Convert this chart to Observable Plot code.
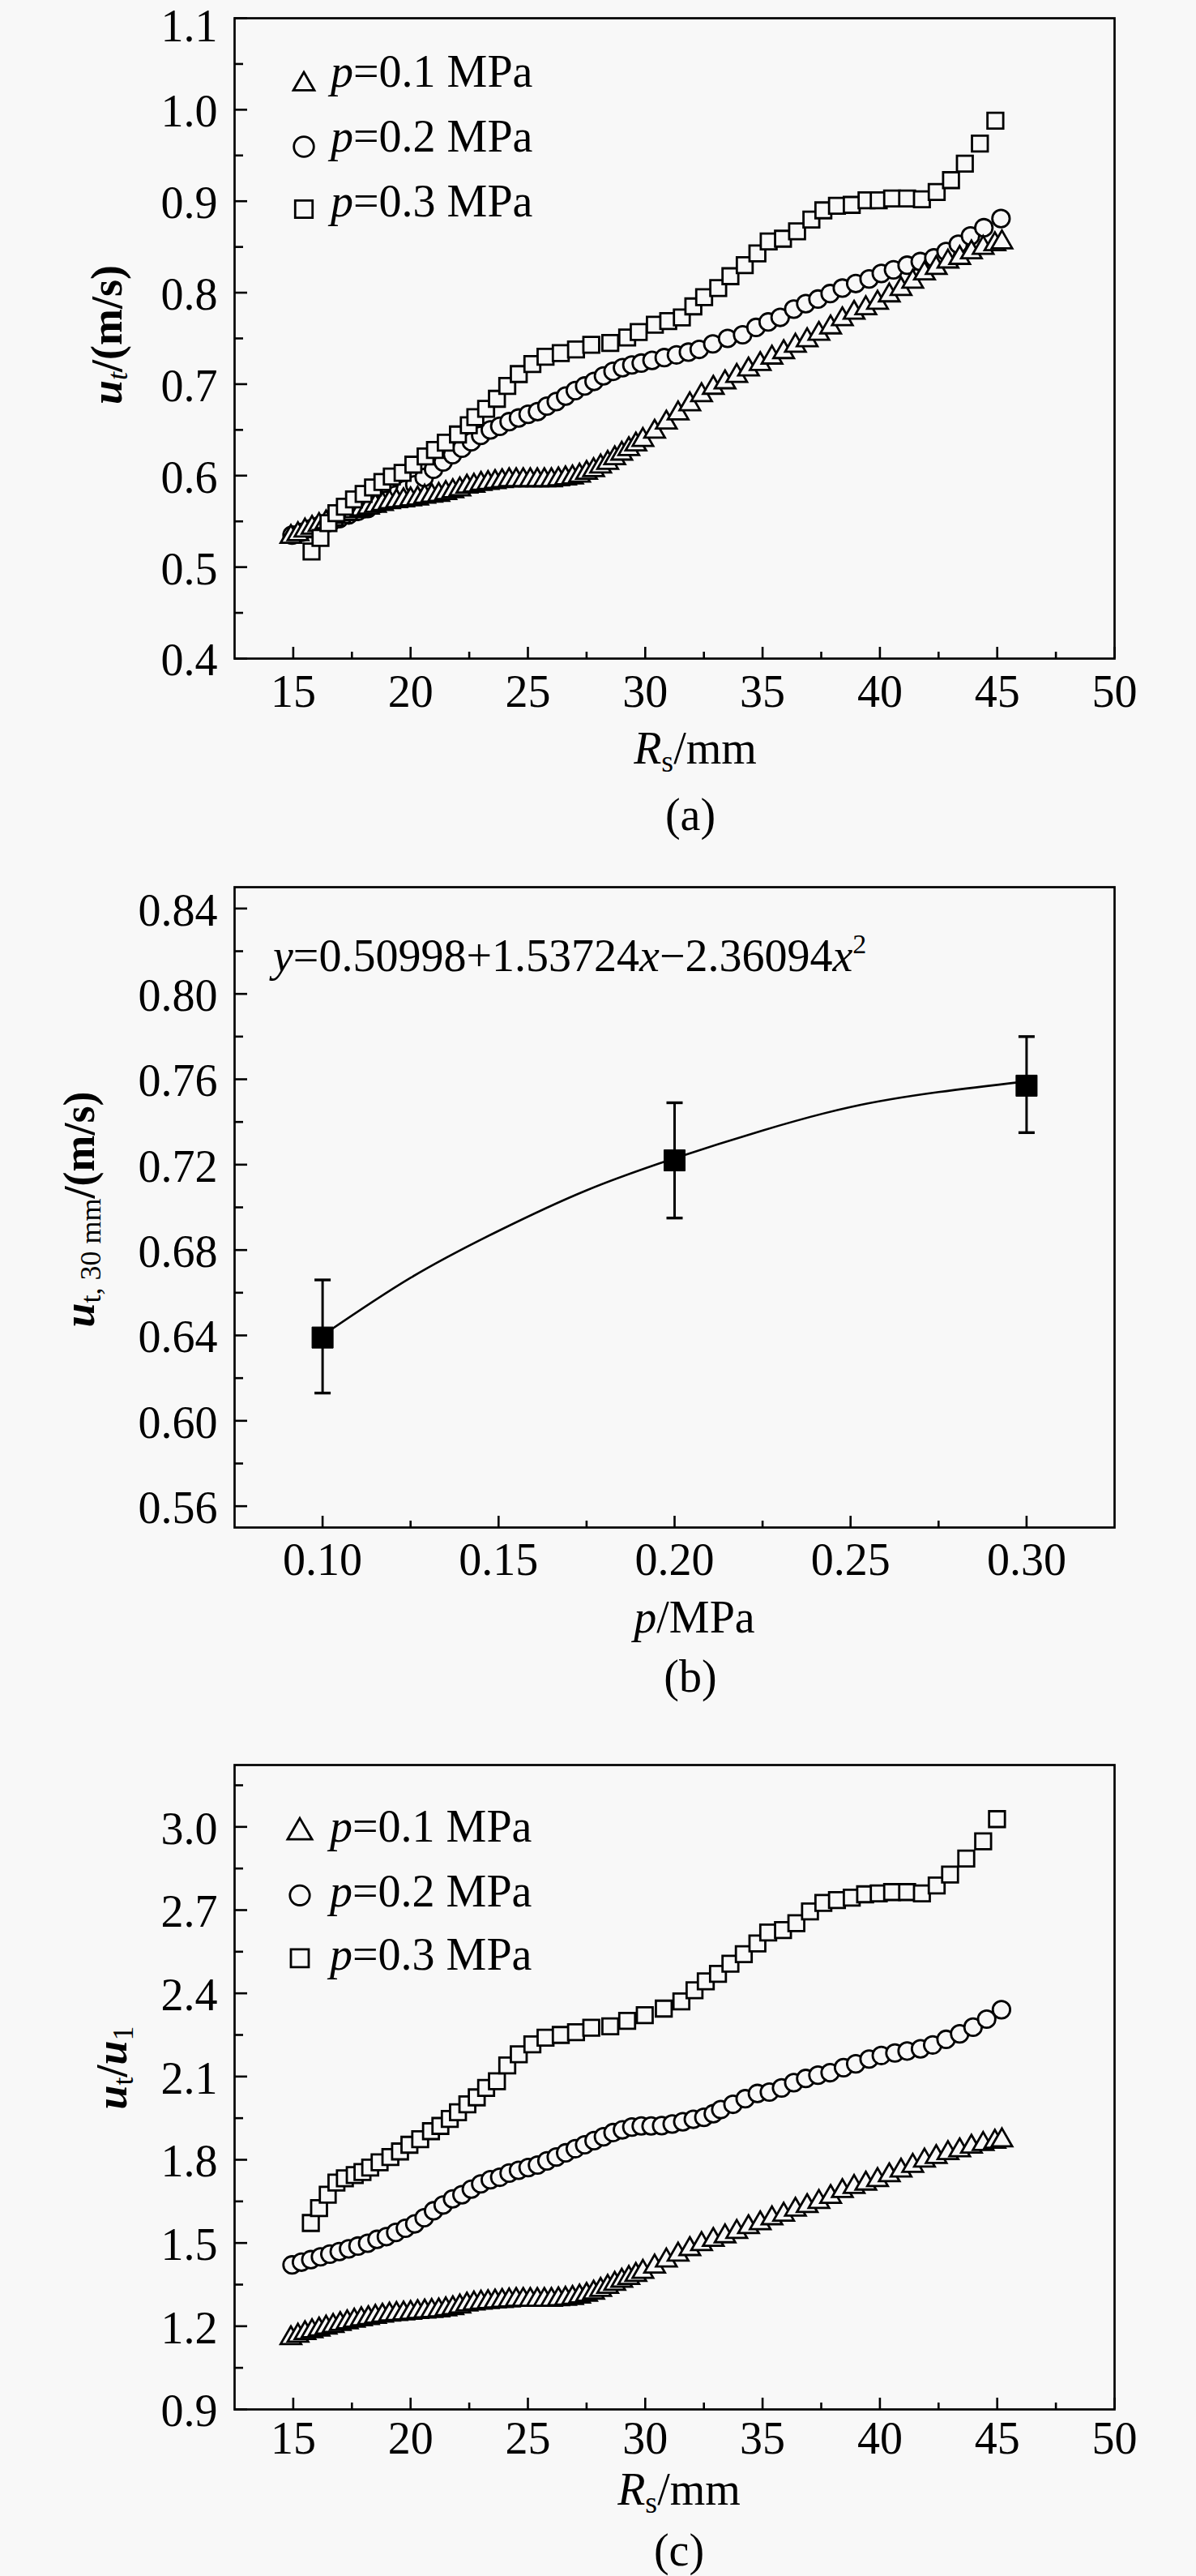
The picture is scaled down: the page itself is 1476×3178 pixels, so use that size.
<!DOCTYPE html>
<html>
<head>
<meta charset="utf-8">
<script src="https://cdn.jsdelivr.net/npm/d3@7"></script>
<script src="https://cdn.jsdelivr.net/npm/@observablehq/plot@0.6"></script>
<style>
html, body { margin: 0; padding: 0; background: #f8f8f8; }
#page { position: relative; width: 1476px; height: 3178px; overflow: hidden; background: #f8f8f8; }
.cap { position: absolute; width: 200px; text-align: center; font: 56px/56px 'Liberation Serif','Times New Roman',Times,serif; color: #000; }
</style>
</head>
<body>
<div id="page"></div>
<script>
// ---------------- Data: panel (a) u_t vs R_s ----------------
const triR = [14.9,15.2,15.5,15.8,16.1,16.4,16.7,17.0,17.3,17.6,17.9,18.2,18.5,18.8,19.1,19.4,19.7,20.0,20.3,20.6,
  20.9,21.2,21.5,21.8,22.1,22.4,22.7,23.0,23.3,23.6,23.9,24.2,24.5,24.8,25.1,25.4,25.7,26.0,26.3,26.6,
  26.9,27.2,27.5,27.8,28.1,28.4,28.7,29.0,29.3,29.6,29.9,
  30.4,30.9,31.4,31.9,32.4,32.9,33.4,33.9,34.4,34.9,35.4,35.9,36.4,36.9,37.4,37.9,38.4,38.9,39.4,39.9,
  40.4,40.9,41.4,41.9,42.4,42.9,43.4,43.9,44.4,44.9,45.2];
const aTriU = [0.533,0.536,0.540,0.543,0.546,0.549,0.552,0.555,0.558,0.561,
  0.563,0.565,0.567,0.569,0.571,0.572,0.573,0.574,0.575,0.577,
  0.578,0.579,0.581,0.583,0.585,0.588,0.589,0.591,0.592,0.593,
  0.594,0.595,0.595,0.595,0.595,0.595,0.595,0.595,0.596,0.597,
  0.598,0.600,0.603,0.606,0.610,0.614,0.619,0.624,0.629,0.634,0.639,
  0.648,0.658,0.668,0.678,0.688,0.696,0.702,0.709,0.716,0.722,
  0.729,0.735,0.742,0.748,0.755,0.762,0.771,0.778,0.783,0.789,
  0.797,0.804,0.812,0.821,0.827,0.834,0.838,0.844,0.849,0.853,0.855];
const aCirR = [14.95,15.35,15.75,16.16,16.56,16.96,17.36,17.76,18.17,18.57,
  18.97,19.37,19.78,20.18,20.58,20.98,21.39,21.79,22.19,22.59,
  22.99,23.40,23.80,24.20,24.60,25.01,25.41,25.81,26.21,26.61,
  27.02,27.42,27.82,28.22,28.63,29.03,29.43,29.83,30.29,30.81,
  31.33,31.84,32.30,32.88,33.51,34.15,34.72,35.24,35.75,36.33,
  36.84,37.36,37.88,38.40,38.97,39.54,40.06,40.58,41.16,41.72,
  42.30,42.82,43.34,43.86,44.43,45.16];
const aCirU = [0.535,0.538,0.542,0.546,0.550,0.553,0.557,0.561,0.564,0.569,
  0.573,0.579,0.585,0.590,0.598,0.607,0.615,0.623,0.630,0.637,
  0.644,0.650,0.654,0.659,0.663,0.667,0.670,0.676,0.681,0.687,
  0.693,0.698,0.703,0.709,0.714,0.718,0.721,0.723,0.726,0.729,
  0.732,0.735,0.738,0.744,0.750,0.754,0.762,0.768,0.773,0.782,
  0.788,0.793,0.799,0.805,0.810,0.815,0.821,0.825,0.830,0.834,
  0.838,0.845,0.853,0.862,0.871,0.881];
const aSqR = [15.78,16.16,16.50,16.84,17.20,17.59,18.00,18.40,18.80,19.20,
  19.66,20.12,20.64,21.04,21.50,22.02,22.48,22.76,23.22,23.68,
  24.12,24.61,25.19,25.75,26.40,27.05,27.70,28.51,29.23,29.72,
  30.41,30.98,31.56,32.05,32.51,33.11,33.63,34.24,34.78,35.26,
  35.87,36.47,37.08,37.59,38.17,38.80,39.43,39.95,40.52,41.16,
  41.79,42.42,43.03,43.62,44.26,44.92];
const aSqU = [0.517,0.532,0.548,0.559,0.566,0.574,0.580,0.587,0.593,0.599,
  0.603,0.612,0.621,0.628,0.636,0.645,0.655,0.664,0.673,0.684,
  0.698,0.711,0.722,0.730,0.734,0.738,0.743,0.745,0.751,0.757,
  0.765,0.769,0.773,0.785,0.795,0.805,0.818,0.830,0.843,0.856,
  0.859,0.867,0.880,0.890,0.895,0.896,0.901,0.901,0.903,0.903,
  0.902,0.910,0.923,0.941,0.963,0.988];

// ---------------- Data: panel (b) u_t,30mm vs p ----------------
const bP = [0.10, 0.20, 0.30];
const bU = [0.639, 0.722, 0.757];
const bLo = [0.613, 0.695, 0.735];
const bHi = [0.666, 0.749, 0.780];
const bFitP = [0.100, 0.125, 0.150, 0.175, 0.200, 0.225, 0.250, 0.275, 0.300];
const bFitU = [0.640, 0.667, 0.689, 0.708, 0.723, 0.736, 0.747, 0.754, 0.759];

// ---------------- Data: panel (c) u_t/u_1 vs R_s ----------------
const cTriV = [1.157,1.166,1.175,1.182,1.188,1.195,1.201,1.208,1.214,1.220,
  1.225,1.229,1.234,1.238,1.242,1.244,1.246,1.248,1.251,1.253,
  1.255,1.257,1.261,1.265,1.271,1.278,1.282,1.285,1.287,1.289,
  1.291,1.293,1.295,1.295,1.295,1.295,1.295,1.295,1.297,1.299,
  1.302,1.307,1.313,1.321,1.331,1.342,1.353,1.364,1.374,1.385,1.396,
  1.415,1.437,1.458,1.478,1.496,1.511,1.524,1.540,1.557,1.571,
  1.589,1.602,1.620,1.633,1.648,1.666,1.687,1.702,1.714,1.727,
  1.744,1.761,1.778,1.797,1.810,1.824,1.834,1.847,1.857,1.865,1.870];
const cCirR = [14.95,15.35,15.75,16.16,16.56,16.96,17.36,17.76,18.17,18.57,
  18.97,19.37,19.78,20.18,20.58,20.98,21.39,21.79,22.19,22.59,
  22.99,23.40,23.80,24.20,24.60,25.01,25.41,25.81,26.21,26.61,
  27.02,27.42,27.82,28.22,28.63,29.03,29.43,29.83,30.25,30.70,
  31.15,31.60,32.05,32.50,32.90,33.22,33.74,34.26,34.78,35.29,
  35.81,36.33,36.84,37.36,37.88,38.45,38.97,39.54,40.06,40.64,
  41.16,41.73,42.25,42.82,43.40,43.97,44.55,45.18];
const cCirV = [1.421,1.431,1.440,1.450,1.460,1.469,1.479,1.489,1.499,1.513,
  1.523,1.538,1.553,1.569,1.591,1.616,1.637,1.659,1.674,1.694,
  1.713,1.728,1.737,1.752,1.762,1.772,1.781,1.796,1.810,1.825,
  1.840,1.854,1.869,1.883,1.898,1.908,1.918,1.922,1.922,1.923,
  1.929,1.937,1.946,1.953,1.966,1.981,2.000,2.020,2.039,2.044,
  2.059,2.078,2.093,2.105,2.114,2.132,2.146,2.163,2.176,2.185,
  2.192,2.200,2.214,2.234,2.254,2.278,2.307,2.341];
const cSqR = [15.75,16.10,16.47,16.84,17.20,17.62,17.95,18.28,18.68,19.14,
  19.55,19.95,20.41,20.87,21.27,21.67,22.02,22.42,22.82,23.22,
  23.68,24.12,24.61,25.19,25.75,26.40,27.05,27.70,28.51,29.23,
  29.98,30.79,31.54,32.10,32.58,33.10,33.63,34.20,34.78,35.24,
  35.87,36.44,37.02,37.59,38.17,38.80,39.37,39.95,40.52,41.16,
  41.79,42.42,42.99,43.68,44.40,44.99];
const cSqV = [1.572,1.626,1.674,1.718,1.733,1.745,1.756,1.772,1.791,1.810,
  1.830,1.854,1.874,1.903,1.922,1.947,1.971,2.000,2.025,2.059,
  2.083,2.140,2.180,2.216,2.240,2.250,2.260,2.276,2.281,2.301,
  2.321,2.345,2.371,2.411,2.443,2.470,2.507,2.541,2.580,2.619,
  2.628,2.653,2.695,2.726,2.736,2.745,2.757,2.760,2.765,2.765,
  2.760,2.789,2.828,2.886,2.948,3.028];

// ---------------- Ticks and labels ----------------
const rTicks = [15, 20, 25, 30, 35, 40, 45, 50];
const rMinor = [17.5, 22.5, 27.5, 32.5, 37.5, 42.5, 47.5];
const aYTicks = [0.4, 0.5, 0.6, 0.7, 0.8, 0.9, 1.0, 1.1];
const aYMinor = [0.45, 0.55, 0.65, 0.75, 0.85, 0.95, 1.05];
const bXTicks = [0.10, 0.15, 0.20, 0.25, 0.30];
const bXMinor = [0.125, 0.175, 0.225, 0.275];
const bYTicks = [0.56, 0.60, 0.64, 0.68, 0.72, 0.76, 0.80, 0.84];
const bYMinor = [0.58, 0.62, 0.66, 0.70, 0.74, 0.78, 0.82];
const cYTicks = [0.9, 1.2, 1.5, 1.8, 2.1, 2.4, 2.7, 3.0];
const cYMinor = [1.05, 1.35, 1.65, 1.95, 2.25, 2.55, 2.85, 3.15];
const legendLabels = ["=0.1 MPa", "=0.2 MPa", "=0.3 MPa"];
const equationParts = ["y", "=0.50998+1.53724", "x", "\u22122.36094", "x", "2"];

// ---------------- Rendering ----------------
const FONT = "'Liberation Serif','Times New Roman',Times,serif";
const BG = "#f8f8f8";
const W = 1476;
const page = document.getElementById("page");
const pts = (xs, ys) => xs.map((x, i) => ({x, y: ys[i]}));

const capSymbol = {
  draw(ctx, size) {
    const w = Math.sqrt(size / Math.PI);
    ctx.moveTo(-w, 0);
    ctx.lineTo(w, 0);
  }
};

function makePanel(o) {
  const fw = W - o.ml - o.mr, fh = o.h - o.mt - o.mb;
  const yTop = o.yd[1];
  // the label sitting on the very top edge is nudged down so it stays inside the page
  const yMain = o.yMajor.filter(v => !(o.topLabelShift && Math.abs(v - yTop) < 1e-9));
  const yEdge = o.yMajor.filter(v => o.topLabelShift && Math.abs(v - yTop) < 1e-9);
  const svg = Plot.plot({
    width: W, height: o.h,
    marginLeft: o.ml, marginRight: o.mr, marginTop: o.mt, marginBottom: o.mb,
    style: {background: "transparent", fontFamily: FONT, fontSize: "56px", color: "#000", overflow: "visible"},
    x: {domain: o.xd, label: null},
    y: {domain: o.yd, label: null},
    marks: [
      ...o.marks,
      Plot.tickX(o.xMinor, {x: d => d, insetTop: fh - 8, stroke: "#000", strokeWidth: 2.6}),
      Plot.tickX(o.xMajor, {x: d => d, insetTop: fh - 14, stroke: "#000", strokeWidth: 2.6}),
      Plot.tickY(o.yMinor, {y: d => d, insetRight: fw - 11, stroke: "#000", strokeWidth: 2.6}),
      Plot.tickY(o.yMajor, {y: d => d, insetRight: fw - 16, stroke: "#000", strokeWidth: 2.6}),
      Plot.axisX(o.xMajor, {tickSize: 0, tickPadding: o.xPad, tickFormat: o.xFmt, fontSize: 56, fontFamily: FONT}),
      Plot.axisY(yMain, {tickSize: 0, tickPadding: 21, dy: 3, tickFormat: o.yFmt, fontSize: 56, fontFamily: FONT}),
      ...(yEdge.length ? [Plot.axisY(yEdge, {tickSize: 0, tickPadding: 21, dy: o.topLabelShift, tickFormat: o.yFmt, fontSize: 56, fontFamily: FONT})] : []),
      Plot.frame({stroke: "#000", strokeWidth: 2.7})
    ]
  });
  svg.style.position = "absolute";
  svg.style.left = "0px";
  svg.style.top = o.top + "px";
  page.appendChild(svg);
  return d3.select(svg);
}

function rich(sel, x, y, parts, opts = {}) {
  const t = sel.append("text")
    .attr("font-family", FONT)
    .attr("font-size", opts.size || 56)
    .attr("fill", "#000")
    .attr("text-anchor", opts.anchor || "start");
  if (opts.rotate) t.attr("transform", `translate(${x},${y}) rotate(-90)`);
  else t.attr("x", x).attr("y", y);
  for (const p of parts) {
    const s = t.append("tspan").text(p.t);
    if (p.i) s.attr("font-style", "italic");
    if (p.b) s.attr("font-weight", "bold");
    if (p.s) s.attr("font-size", p.s);
    if (p.dy) s.attr("dy", p.dy);
  }
  return t;
}

function legend(sel, x, symY, tx, textY, sizes) {
  const types = [d3.symbolTriangle, d3.symbolCircle, d3.symbolSquare];
  types.forEach((type, i) => {
    sel.append("path")
      .attr("d", d3.symbol(type, sizes[i] * sizes[i] * Math.PI)())
      .attr("transform", `translate(${x},${symY[i]})`)
      .attr("fill", BG).attr("stroke", "#000").attr("stroke-width", 2.8);
    rich(sel, tx, textY[i], [{t: "p", i: 1}, {t: legendLabels[i]}]);
  });
}

function seriesMarks(tri, cir, sq) {
  const common = {x: "x", y: "y", stroke: "#000", fill: BG, strokeWidth: 2.8};
  return [
    Plot.dot(cir, {...common, symbol: "circle", r: 10.7}),
    Plot.dot(tri, {...common, symbol: "triangle", r: 9.4}),
    Plot.dot(sq, {...common, symbol: "square", r: 11})
  ];
}

// Panel (a)
const A = makePanel({
  top: 0, h: 960, ml: 289, mr: 101, mt: 22, mb: 148,
  xd: [12.5, 50], yd: [0.4, 1.1], topLabelShift: 11,
  xMajor: rTicks, xMinor: rMinor, yMajor: aYTicks, yMinor: aYMinor,
  xFmt: d3.format("d"), yFmt: d3.format(".1f"), xPad: 20,
  marks: seriesMarks(pts(triR, aTriU), pts(aCirR, aCirU), pts(aSqR, aSqU))
});
legend(A, 375, [104, 181, 258], 408, [107, 187, 267], [9.6, 12.3, 12.1]);
rich(A, 150, 413, [{t: "u", i: 1, b: 1}, {t: "t", i: 1, s: 36, dy: 7}, {t: "/(m/s)", b: 1, dy: -7}], {anchor: "middle", rotate: true, size: 54});
rich(A, 858, 942, [{t: "R", i: 1}, {t: "s", s: 38, dy: 10}, {t: "/mm", dy: -10}], {anchor: "middle"});

// Panel (b)
const bData = bP.map((p, i) => ({p, u: bU[i], lo: bLo[i], hi: bHi[i]}));
const bFit = pts(bFitP, bFitU);
const B = makePanel({
  top: 1050, h: 1010, ml: 289, mr: 101, mt: 44, mb: 176,
  xd: [0.075, 0.325], yd: [0.55, 0.85],
  xMajor: bXTicks, xMinor: bXMinor, yMajor: bYTicks, yMinor: bYMinor,
  xFmt: d3.format(".2f"), yFmt: d3.format(".2f"), xPad: 19,
  marks: [
    Plot.line(bFit, {x: "x", y: "y", curve: "natural", stroke: "#000", strokeWidth: 2.6}),
    Plot.ruleX(bData, {x: "p", y1: "lo", y2: "hi", stroke: "#000", strokeWidth: 3}),
    Plot.dot(bData, {x: "p", y: "lo", symbol: capSymbol, r: 10, fill: "none", stroke: "#000", strokeWidth: 3.4}),
    Plot.dot(bData, {x: "p", y: "hi", symbol: capSymbol, r: 10, fill: "none", stroke: "#000", strokeWidth: 3.4}),
    Plot.dot(bData, {x: "p", y: "u", symbol: "square", r: 14.7, fill: "#000", stroke: "#000", strokeWidth: 1})
  ]
});
rich(B, 337, 148, [
  {t: equationParts[0], i: 1}, {t: equationParts[1]}, {t: equationParts[2], i: 1},
  {t: equationParts[3]}, {t: equationParts[4], i: 1}, {t: equationParts[5], s: 34, dy: -22}
]);
rich(B, 116, 442, [{t: "u", i: 1, b: 1}, {t: "t, 30 mm", s: 36, dy: 8}, {t: "/(m/s)", b: 1, dy: -8}], {anchor: "middle", rotate: true, size: 54});
rich(B, 857, 964, [{t: "p", i: 1}, {t: "/MPa"}], {anchor: "middle"});

// Panel (c)
const C = makePanel({
  top: 2100, h: 1050, ml: 289, mr: 101, mt: 77, mb: 178,
  xd: [12.5, 50], yd: [0.9, 3.223],
  xMajor: rTicks, xMinor: rMinor, yMajor: cYTicks, yMinor: cYMinor,
  xFmt: d3.format("d"), yFmt: d3.format(".1f"), xPad: 15,
  marks: seriesMarks(pts(triR, cTriV), pts(cCirR, cCirV), pts(cSqR, cSqV))
});
legend(C, 370, [160.5, 238.3, 315.8], 407, [171.7, 251.7, 330], [11.2, 12.2, 12.4]);
rich(C, 156, 451, [{t: "u", i: 1, b: 1}, {t: "t", s: 36, dy: 8}, {t: "/", b: 1, dy: -8}, {t: "u", i: 1, b: 1}, {t: "1", s: 36, dy: 8}], {anchor: "middle", rotate: true, size: 54});
rich(C, 838, 990, [{t: "R", i: 1}, {t: "s", s: 38, dy: 10}, {t: "/mm", dy: -10}], {anchor: "middle"});

// Captions
[["(a)", 852, 977], ["(b)", 852, 2040], ["(c)", 838, 3118]].forEach(([txt, cx, top]) => {
  const d = document.createElement("div");
  d.className = "cap";
  d.textContent = txt;
  d.style.left = (cx - 100) + "px";
  d.style.top = top + "px";
  page.appendChild(d);
});
</script>
</body>
</html>
